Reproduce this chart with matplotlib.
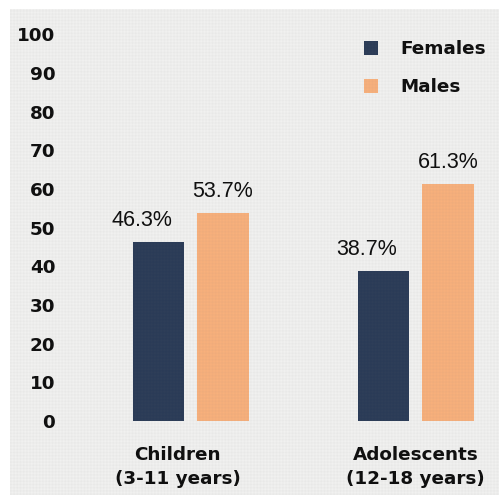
import numpy as np
import matplotlib
matplotlib.use("Agg")
import matplotlib.pyplot as plt
from matplotlib.patches import Rectangle
from matplotlib.transforms import ScaledTranslation

plt.rcParams["font.family"] = ["DejaVu Sans"]

# Data
groups = ["Children\n(3-11 years)", "Adolescents\n(12-18 years)"]
series = ["Females", "Males"]
females = [46.3, 38.7]
males = [53.7, 61.3]
yticks = [0, 10, 20, 30, 40, 50, 60, 70, 80, 90, 100]

colors = {"Females": "#2a3b57", "Males": "#f8b07c"}
ink = "#0d0d0d"

W, H = 499, 495
fig = plt.figure(figsize=(W / 100, H / 100), dpi=100)
fig.patch.set_facecolor("white")

# paper-like panel behind the chart
fig.patches.append(Rectangle((10 / W, 0), 1 - 10 / W, 1 - 9 / H,
                             transform=fig.transFigure, facecolor="#f1f1f0",
                             edgecolor="none", zorder=-10))

ax = fig.add_axes([65 / W, (H - 421) / H, (490 - 65) / W, (421 - 34.4) / H])
ax.set_facecolor("none")
ax.set_zorder(1)

x = np.arange(len(groups))
bw = 0.227
off = 0.1444
bf = ax.bar(x - off, females, bw, color=colors["Females"], label="Females")
bm = ax.bar(x + off, males, bw, color=colors["Males"], label="Males")

val_font = dict(family="Liberation Sans", fontsize=15.5, color=ink)
for xi, v in zip(x - off, females):
    ax.annotate(f"{v}%", xy=(xi, v), xytext=(-11.5, 8), textcoords="offset points",
                ha="center", va="bottom", **val_font)
for xi, v in zip(x + off, males):
    ax.annotate(f"{v}%", xy=(xi, v), xytext=(0, 8), textcoords="offset points",
                ha="center", va="bottom", **val_font)

ax.set_xlim(-0.558, 1.331)
ax.set_ylim(0, 100)
ax.set_yticks(yticks)
ax.set_yticklabels([str(t) for t in yticks], fontsize=13.2, fontweight="bold",
                   color=ink)
ax.set_xticks(x)
ax.set_xticklabels(groups, fontsize=13.2, fontweight="bold", color=ink,
                   linespacing=1.4)
ax.tick_params(axis="y", length=0, pad=7)
ax.tick_params(axis="x", length=0, pad=18)
for s in ax.spines.values():
    s.set_visible(False)

# the first category caption sits a little left of its bars
first = ax.get_xticklabels()[0]
first.set_transform(first.get_transform() + ScaledTranslation(-0.13, 0, fig.dpi_scale_trans))

leg = ax.legend(handles=[bf, bm], labels=series, loc="upper left",
                bbox_to_anchor=(364 / W, 1 - 40 / H), bbox_transform=fig.transFigure,
                frameon=False, fontsize=13.2, handlelength=0.78, handleheight=0.78,
                handletextpad=1.2, labelspacing=1.1, borderpad=0, borderaxespad=0)
for t in leg.get_texts():
    t.set_fontweight("bold")
    t.set_color(ink)

# faint canvas weave over the whole sheet
yy, xx = np.mgrid[0:H, 0:W]
weave = 0.5 + 0.25 * np.sin(2 * np.pi * xx / 3.2) + 0.25 * np.sin(2 * np.pi * yy / 3.2)
rgba = np.zeros((H, W, 4))
rgba[..., :3] = 0.45
rgba[..., 3] = 0.07 * weave
rgba[:9, :, 3] = 0
rgba[:, :10, 3] = 0
fig.figimage(rgba, xo=0, yo=0, zorder=5, origin="upper")

fig.savefig("out.png", dpi=100)
